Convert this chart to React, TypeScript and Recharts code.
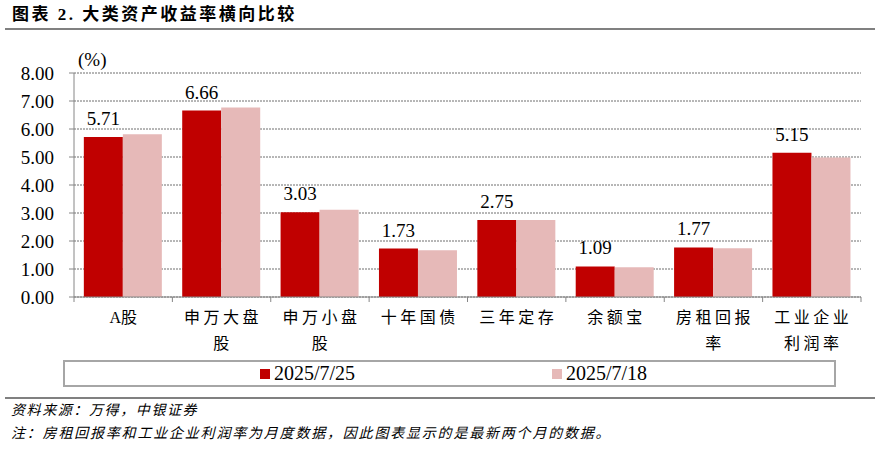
import { Bar, BarChart, CartesianGrid, LabelList, Legend, XAxis, YAxis } from 'recharts';

const categories = ['A股', '申万大盘股', '申万小盘股', '十年国债', '三年定存', '余额宝', '房租回报率', '工业企业利润率'];
const latest = [5.71, 6.66, 3.03, 1.73, 2.75, 1.09, 1.77, 5.15];
const previous = [5.81, 6.77, 3.12, 1.67, 2.75, 1.06, 1.74, 4.98];
const seriesNames = ['2025/7/25', '2025/7/18'];
const yTicks = [0, 1, 2, 3, 4, 5, 6, 7, 8];

const RED = '#C00000';
const PINK = '#E6B9B8';
const AXIS = '#868686';
const SERIF = "'Liberation Serif', 'Times New Roman', 'Noto Sans CJK SC', serif";
const CJK = "'Liberation Serif', 'Noto Sans CJK SC', serif";

const PLOT_W = 787;
const BAND = PLOT_W / categories.length;

const data = categories.map((name, i) => ({ name, latest: latest[i], previous: previous[i] }));

// x labels wrap after 4 chars, tick marks sit on category edges
const CategoryTick = ({ x, y, payload, index }: any) => {
  const label: string = payload.value;
  const lines = label.length > 4 ? [label.slice(0, 4), label.slice(4)] : [label];
  return (
    <g>
      <line x1={x - BAND / 2} x2={x - BAND / 2} y1={y} y2={y + 5} stroke={AXIS} />
      {index === categories.length - 1 && (
        <line x1={x + BAND / 2} x2={x + BAND / 2} y1={y} y2={y + 5} stroke={AXIS} />
      )}
      {lines.map((l, i) => {
        const latin = /[A-Za-z0-9]/.test(l);
        return (
          <text
            key={i}
            x={latin ? x : x + 1.5}
            y={y + 26 + i * 26}
            textAnchor='middle'
            fontSize={16}
            letterSpacing={latin ? 0 : 3.5}
            fontFamily={CJK}
            fill='#000'
          >
            {l}
          </text>
        );
      })}
    </g>
  );
};

const LegendBox = () => (
  <div
    style={{
      position: 'relative',
      width: 773,
      height: 27,
      boxSizing: 'border-box',
      border: '2px solid #a6a6a6',
      background: '#fff',
      fontFamily: SERIF,
      fontSize: 20,
    }}
  >
    {[RED, PINK].map((c, i) => (
      <div key={i} style={{ position: 'absolute', left: i === 0 ? 195 : 487, top: 0, height: 23, display: 'flex', alignItems: 'center' }}>
        <span style={{ display: 'inline-block', width: 10, height: 10, background: c, marginRight: 4 }} />
        <span style={{ lineHeight: '23px' }}>{seriesNames[i]}</span>
      </div>
    ))}
  </div>
);

const UnitLabel = ({ viewBox }: any) => (
  <text x={viewBox.x + viewBox.width + 4} y={viewBox.y - 7} fontSize={19} fontFamily={SERIF} fill='#000'>
    (%)
  </text>
);

const App = () => {
  return (
    <div style={{ position: 'absolute', left: 0, top: 0, width: 880, height: 450, background: '#fff' }}>
      <div
        style={{
          position: 'absolute',
          left: 12,
          top: 4,
          fontFamily: CJK,
          fontWeight: 'bold',
          fontSize: 17,
          letterSpacing: 2.5,
          lineHeight: '22px',
          color: '#000',
        }}
      >
        图表 2. 大类资产收益率横向比较
      </div>
      <div style={{ position: 'absolute', left: 5, top: 28, width: 870, height: 2, background: '#808080' }} />

      <div style={{ position: 'absolute', left: 0, top: 0 }}>
        <BarChart
          width={880}
          height={400}
          data={data}
          margin={{ top: 73, right: 19, left: 0, bottom: 0 }}
          barCategoryGap='10%'
          barGap={0}
        >
          <CartesianGrid vertical={false} stroke='#6e6e6e' strokeDasharray='2 1' />
          <XAxis
            dataKey='name'
            height={103}
            interval={0}
            tickLine={false}
            tickSize={0}
            tickMargin={0}
            axisLine={{ stroke: AXIS }}
            tick={<CategoryTick />}
          />
          <YAxis
            width={74}
            domain={[0, 8]}
            ticks={yTicks}
            tickFormatter={(v: number) => v.toFixed(2)}
            axisLine={{ stroke: AXIS }}
            tickLine={{ stroke: AXIS }}
            tickSize={5}
            tickMargin={15}
            tick={{ fontSize: 19, fontFamily: SERIF, fill: '#000' }}
            label={<UnitLabel />}
          />
          <Legend
            layout='horizontal'
            verticalAlign='middle'
            align='center'
            wrapperStyle={{ position: 'absolute', left: 63, top: 360, width: 773, height: 27 }}
            content={() => <LegendBox />}
          />
          <Bar dataKey='latest' name={seriesNames[0]} fill={RED} isAnimationActive={false}>
            <LabelList
              dataKey='latest'
              position='top'
              offset={12}
              formatter={(v: any) => Number(v).toFixed(2)}
              style={{ fontSize: 19, fontFamily: SERIF, fill: '#000' }}
            />
          </Bar>
          <Bar dataKey='previous' name={seriesNames[1]} fill={PINK} isAnimationActive={false} />
        </BarChart>
      </div>

      <div style={{ position: 'absolute', left: 5, top: 397, width: 870, height: 2, background: '#808080' }} />
      <div
        style={{
          position: 'absolute',
          left: 11,
          top: 401,
          fontFamily: CJK,
          fontStyle: 'italic',
          fontSize: 14,
          letterSpacing: 1.6,
          lineHeight: '20px',
          color: '#000',
        }}
      >
        资料来源：万得，中银证券
      </div>
      <div
        style={{
          position: 'absolute',
          left: 11,
          top: 424,
          fontFamily: CJK,
          fontStyle: 'italic',
          fontSize: 14,
          letterSpacing: 1.8,
          lineHeight: '20px',
          color: '#000',
        }}
      >
        注：房租回报率和工业企业利润率为月度数据，因此图表显示的是最新两个月的数据。
      </div>
    </div>
  );
};

export default App;
